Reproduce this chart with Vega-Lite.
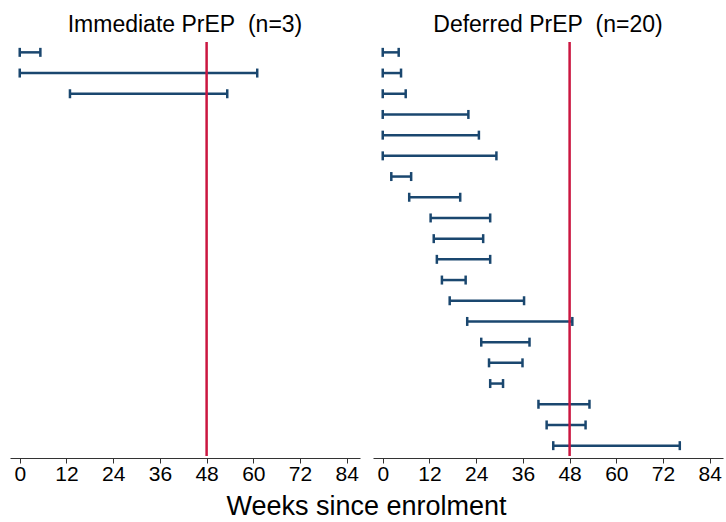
{
  "$schema": "https://vega.github.io/schema/vega-lite/v6.json",
  "padding": {"left": 10, "right": 3, "top": 14, "bottom": 0},
  "background": "white",
  "data": {"values": [
    {"group": "Immediate PrEP\u00a0 (n=3)", "rank": 1, "start": 0, "end": 5.3},
    {"group": "Immediate PrEP\u00a0 (n=3)", "rank": 2, "start": 0, "end": 61.0},
    {"group": "Immediate PrEP\u00a0 (n=3)", "rank": 3, "start": 12.9, "end": 53.3},
    {"group": "Deferred PrEP\u00a0 (n=20)", "rank": 1, "start": 0, "end": 4.1},
    {"group": "Deferred PrEP\u00a0 (n=20)", "rank": 2, "start": 0, "end": 4.7},
    {"group": "Deferred PrEP\u00a0 (n=20)", "rank": 3, "start": 0, "end": 5.9},
    {"group": "Deferred PrEP\u00a0 (n=20)", "rank": 4, "start": 0, "end": 22.0},
    {"group": "Deferred PrEP\u00a0 (n=20)", "rank": 5, "start": 0, "end": 24.7},
    {"group": "Deferred PrEP\u00a0 (n=20)", "rank": 6, "start": 0, "end": 29.2},
    {"group": "Deferred PrEP\u00a0 (n=20)", "rank": 7, "start": 2.2, "end": 7.3},
    {"group": "Deferred PrEP\u00a0 (n=20)", "rank": 8, "start": 6.8, "end": 19.9},
    {"group": "Deferred PrEP\u00a0 (n=20)", "rank": 9, "start": 12.3, "end": 27.6},
    {"group": "Deferred PrEP\u00a0 (n=20)", "rank": 10, "start": 13.1, "end": 25.8},
    {"group": "Deferred PrEP\u00a0 (n=20)", "rank": 11, "start": 13.9, "end": 27.6},
    {"group": "Deferred PrEP\u00a0 (n=20)", "rank": 12, "start": 15.2, "end": 21.3},
    {"group": "Deferred PrEP\u00a0 (n=20)", "rank": 13, "start": 17.2, "end": 36.3},
    {"group": "Deferred PrEP\u00a0 (n=20)", "rank": 14, "start": 21.7, "end": 48.7},
    {"group": "Deferred PrEP\u00a0 (n=20)", "rank": 15, "start": 25.3, "end": 37.7},
    {"group": "Deferred PrEP\u00a0 (n=20)", "rank": 16, "start": 27.3, "end": 35.9},
    {"group": "Deferred PrEP\u00a0 (n=20)", "rank": 17, "start": 27.6, "end": 30.9},
    {"group": "Deferred PrEP\u00a0 (n=20)", "rank": 18, "start": 40.0, "end": 53.1},
    {"group": "Deferred PrEP\u00a0 (n=20)", "rank": 19, "start": 42.1, "end": 52.1},
    {"group": "Deferred PrEP\u00a0 (n=20)", "rank": 20, "start": 43.8, "end": 76.3}
  ]},
  "facet": {
    "column": {
      "field": "group",
      "type": "nominal",
      "sort": ["Immediate PrEP\u00a0 (n=3)", "Deferred PrEP\u00a0 (n=20)"],
      "header": {"title": null, "labelFont": "Liberation Sans", "labelFontSize": 23, "labelColor": "#000000", "labelPadding": 3}
    }
  },
  "spacing": 13,
  "spec": {
    "width": 350,
    "height": 414,
    "layer": [
      {
        "mark": {"type": "rule", "color": "#1a476f", "strokeWidth": 2.5},
        "encoding": {
          "x": {"field": "start", "type": "quantitative",
                "scale": {"domain": [-2.5, 87.4], "nice": false, "zero": false},
                "axis": {"values": [0, 12, 24, 36, 48, 60, 72, 84], "title": null, "grid": false,
                         "labelFont": "Liberation Sans", "labelFontSize": 21, "labelColor": "#000000",
                         "labelFlush": false, "tickSize": 5, "tickColor": "#333333", "domainColor": "#333333",
                         "labelPadding": 0}},
          "x2": {"field": "end"},
          "y": {"field": "rank", "type": "quantitative",
                "scale": {"domain": [0.5, 20.5], "reverse": true, "nice": false, "zero": false},
                "axis": null}
        }
      },
      {
        "mark": {"type": "tick", "orient": "vertical", "color": "#1a476f", "thickness": 2.5, "size": 9, "opacity": 1},
        "encoding": {
          "x": {"field": "start", "type": "quantitative"},
          "y": {"field": "rank", "type": "quantitative"}
        }
      },
      {
        "mark": {"type": "tick", "orient": "vertical", "color": "#1a476f", "thickness": 2.5, "size": 9, "opacity": 1},
        "encoding": {
          "x": {"field": "end", "type": "quantitative"},
          "y": {"field": "rank", "type": "quantitative"}
        }
      },
      {
        "mark": {"type": "rule", "color": "#cb1640", "strokeWidth": 2.5},
        "transform": [{"filter": "datum.rank == 1"}],
        "encoding": {"x": {"datum": 48, "type": "quantitative"}}
      }
    ]
  },
  "title": {"text": "Weeks since enrolment", "orient": "bottom", "anchor": "middle",
            "font": "Liberation Sans", "fontSize": 27, "fontWeight": "normal", "color": "#000000", "offset": 10},
  "config": {"view": {"stroke": null}}
}
